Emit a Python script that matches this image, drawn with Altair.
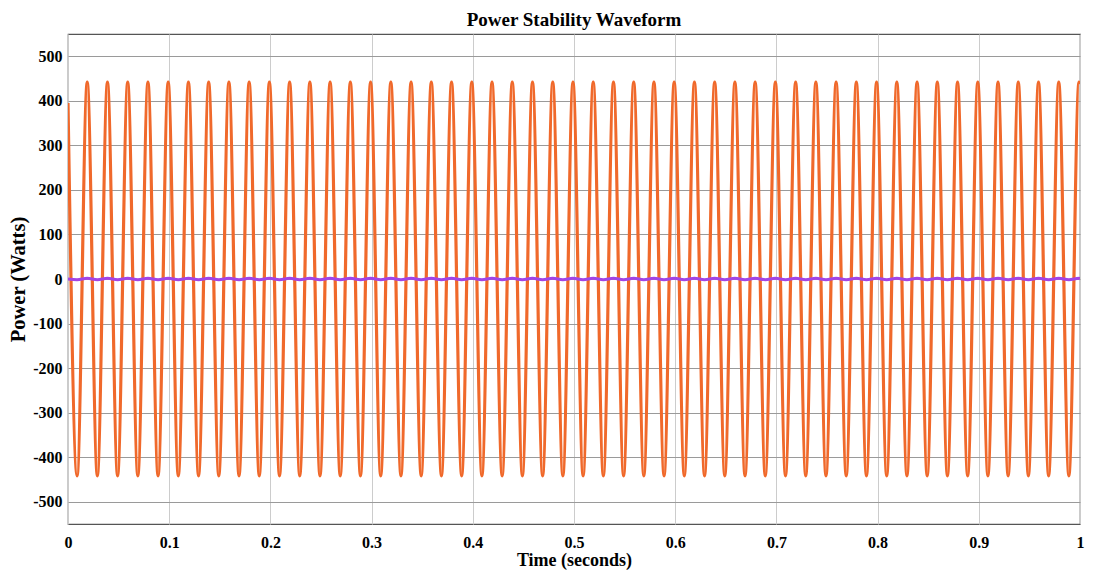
import altair as alt
import pandas as pd

# Time (s) of the waveform's start, each trough/peak, and the end
orange_t = [0.0,
    0.009, 0.019, 0.029, 0.039, 0.049, 0.059, 0.069, 0.079, 0.089, 0.099,
    0.109, 0.119, 0.129, 0.139, 0.149, 0.159, 0.169, 0.179, 0.189, 0.199,
    0.209, 0.219, 0.229, 0.239, 0.249, 0.259, 0.269, 0.279, 0.289, 0.299,
    0.309, 0.319, 0.329, 0.339, 0.349, 0.359, 0.369, 0.379, 0.389, 0.399,
    0.409, 0.419, 0.429, 0.439, 0.449, 0.459, 0.469, 0.479, 0.489, 0.499,
    0.509, 0.519, 0.529, 0.539, 0.549, 0.559, 0.569, 0.579, 0.589, 0.599,
    0.609, 0.619, 0.629, 0.639, 0.649, 0.659, 0.669, 0.679, 0.689, 0.699,
    0.709, 0.719, 0.729, 0.739, 0.749, 0.759, 0.769, 0.779, 0.789, 0.799,
    0.809, 0.819, 0.829, 0.839, 0.849, 0.859, 0.869, 0.879, 0.889, 0.899,
    0.909, 0.919, 0.929, 0.939, 0.949, 0.959, 0.969, 0.979, 0.989, 0.999,
    1.0]
# Power (W) at those instants
orange_p = [395,
    -442, 442, -442, 442, -442, 442, -442, 442, -442, 442,
    -442, 442, -442, 442, -442, 442, -442, 442, -442, 442,
    -442, 442, -442, 442, -442, 442, -442, 442, -442, 442,
    -442, 442, -442, 442, -442, 442, -442, 442, -442, 442,
    -442, 442, -442, 442, -442, 442, -442, 442, -442, 442,
    -442, 442, -442, 442, -442, 442, -442, 442, -442, 442,
    -442, 442, -442, 442, -442, 442, -442, 442, -442, 442,
    -442, 442, -442, 442, -442, 442, -442, 442, -442, 442,
    -442, 442, -442, 442, -442, 442, -442, 442, -442, 442,
    -442, 442, -442, 442, -442, 442, -442, 442, -442, 442,
    438]
# Second (purple) trace: small ripple around zero
purple_p = [0,
    -1.5, 1.5, -1.5, 1.5, -1.5, 1.5, -1.5, 1.5, -1.5, 1.5,
    -1.5, 1.5, -1.5, 1.5, -1.5, 1.5, -1.5, 1.5, -1.5, 1.5,
    -1.5, 1.5, -1.5, 1.5, -1.5, 1.5, -1.5, 1.5, -1.5, 1.5,
    -1.5, 1.5, -1.5, 1.5, -1.5, 1.5, -1.5, 1.5, -1.5, 1.5,
    -1.5, 1.5, -1.5, 1.5, -1.5, 1.5, -1.5, 1.5, -1.5, 1.5,
    -1.5, 1.5, -1.5, 1.5, -1.5, 1.5, -1.5, 1.5, -1.5, 1.5,
    -1.5, 1.5, -1.5, 1.5, -1.5, 1.5, -1.5, 1.5, -1.5, 1.5,
    -1.5, 1.5, -1.5, 1.5, -1.5, 1.5, -1.5, 1.5, -1.5, 1.5,
    -1.5, 1.5, -1.5, 1.5, -1.5, 1.5, -1.5, 1.5, -1.5, 1.5,
    -1.5, 1.5, -1.5, 1.5, -1.5, 1.5, -1.5, 1.5, -1.5, 1.5,
    0]

x_ticks = [0, 0.1, 0.2, 0.3, 0.4, 0.5, 0.6, 0.7, 0.8, 0.9, 1]
y_ticks = [-500, -400, -300, -200, -100, 0, 100, 200, 300, 400, 500]

df_o = pd.DataFrame({"t": orange_t, "p": orange_p})
df_p = pd.DataFrame({"t": orange_t, "p": purple_p})

FONT = "Liberation Serif"
common = dict(labelFont=FONT, labelFontSize=16, labelFontWeight="bold",
              labelColor="#000000", titleFont=FONT,
              titleFontWeight="bold", titleColor="#000000",
              grid=True, gridWidth=1, ticks=False, domain=False,
              labelFlush=False)

x_enc = alt.X("t:Q",
    scale=alt.Scale(domain=[0, 1], nice=False, zero=False),
    axis=alt.Axis(values=x_ticks, title="Time (seconds)", gridColor="#cccccc",
                  titleFontSize=18, labelPadding=10, titlePadding=1,
                  labelExpr="datum.value == 0 ? '0' : datum.value == 1 ? '1' : format(datum.value, '.1f')",
                  **common))
y_enc = alt.Y("p:Q",
    scale=alt.Scale(domain=[-550, 550], nice=False, zero=False),
    axis=alt.Axis(values=y_ticks, title="Power (Watts)", gridColor="#9a9a9a",
                  titleFontSize=20.5, labelPadding=6, titlePadding=4,
                  labelExpr="datum.value < 0 ? '-' + abs(datum.value) : '' + datum.value",
                  **common))

orange = alt.Chart(df_o).mark_line(
    color="#f0692b", strokeWidth=3.2, interpolate="monotone", clip=True
).encode(x=x_enc, y=y_enc)

purple = alt.Chart(df_p).mark_line(
    color="#a244e6", strokeWidth=3, interpolate="monotone", clip=True
).encode(x="t:Q", y="p:Q")

chart = alt.layer(orange, purple).properties(
    width=1012, height=490,
    title=alt.TitleParams("Power Stability Waveform", font=FONT, fontSize=19,
                          fontWeight="bold", color="#000000", offset=4,
                          anchor="middle"),
    autosize=alt.AutoSizeParams(type="none"),
    padding={"left": 60, "top": 26, "right": 5, "bottom": 47},
    background="white",
).configure_view(
    stroke="#555555", strokeWidth=1.2
)

chart.save("out.html", embed_options={"renderer": "svg", "actions": False})
